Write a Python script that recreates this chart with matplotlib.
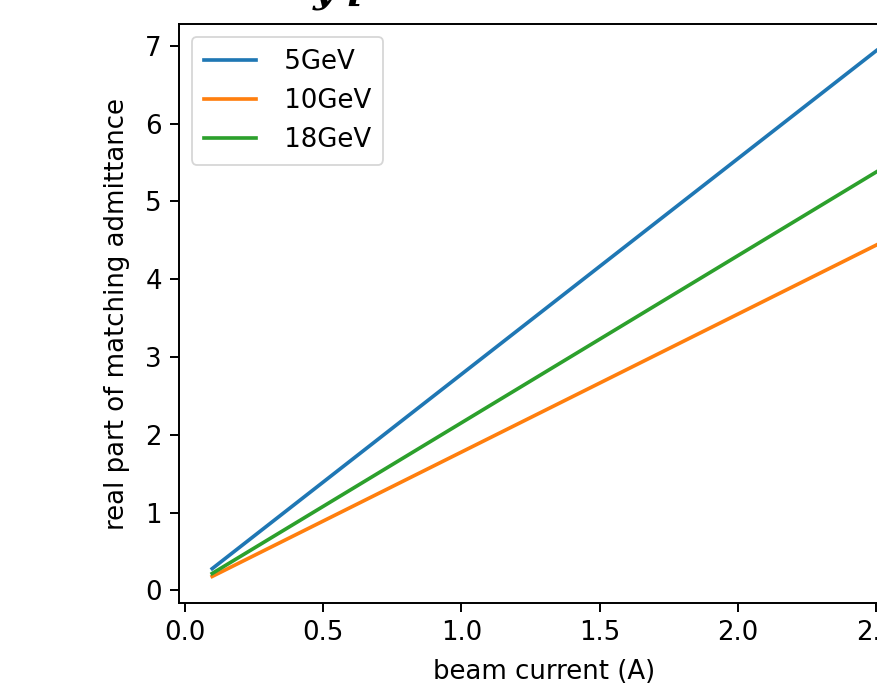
import numpy as np
import matplotlib
matplotlib.use("Agg")
import matplotlib.pyplot as plt

# beam current endpoints (A) and real part of matching admittance
beam_current = [0.1, 2.5]
adm_5gev = [0.278, 6.94]
adm_10gev = [0.178, 4.44]
adm_18gev = [0.216, 5.38]
labels = [" 5GeV", " 10GeV", " 18GeV"]

# the screenshot was an upscaled figure, so scale the defaults up
s = 1.35
plt.rcParams.update({
    "font.size": 14.4,
    "lines.linewidth": 1.5 * s,
    "axes.linewidth": 0.8 * s,
    "xtick.major.size": 3.5 * s,
    "ytick.major.size": 3.5 * s,
    "xtick.major.width": 0.8 * s,
    "ytick.major.width": 0.8 * s,
    "xtick.major.pad": 3.5 * s,
    "ytick.major.pad": 3.5 * s,
})

fig = plt.figure(figsize=(877 / 130, 690 / 130), dpi=130)
# the original screenshot is cropped on the right, so the axes run past the edge
ax = fig.add_axes([0.2041, 0.1265, 0.8331, 0.8383])

for vals, lab in zip([adm_5gev, adm_10gev, adm_18gev], labels):
    ax.plot(beam_current, vals, label=lab)

ax.set_xlabel("beam current (A)", labelpad=7.5)
ax.set_ylabel("real part of matching admittance", labelpad=8.5)
ax.legend(loc="upper left", borderpad=0.45)

# bottom of a cropped title above the figure
fig.text(0.356, 0.9975, "y [", fontsize=21, fontweight="bold", style="italic",
         family="DejaVu Serif", va="baseline")

fig.savefig("out.png", dpi=130)
